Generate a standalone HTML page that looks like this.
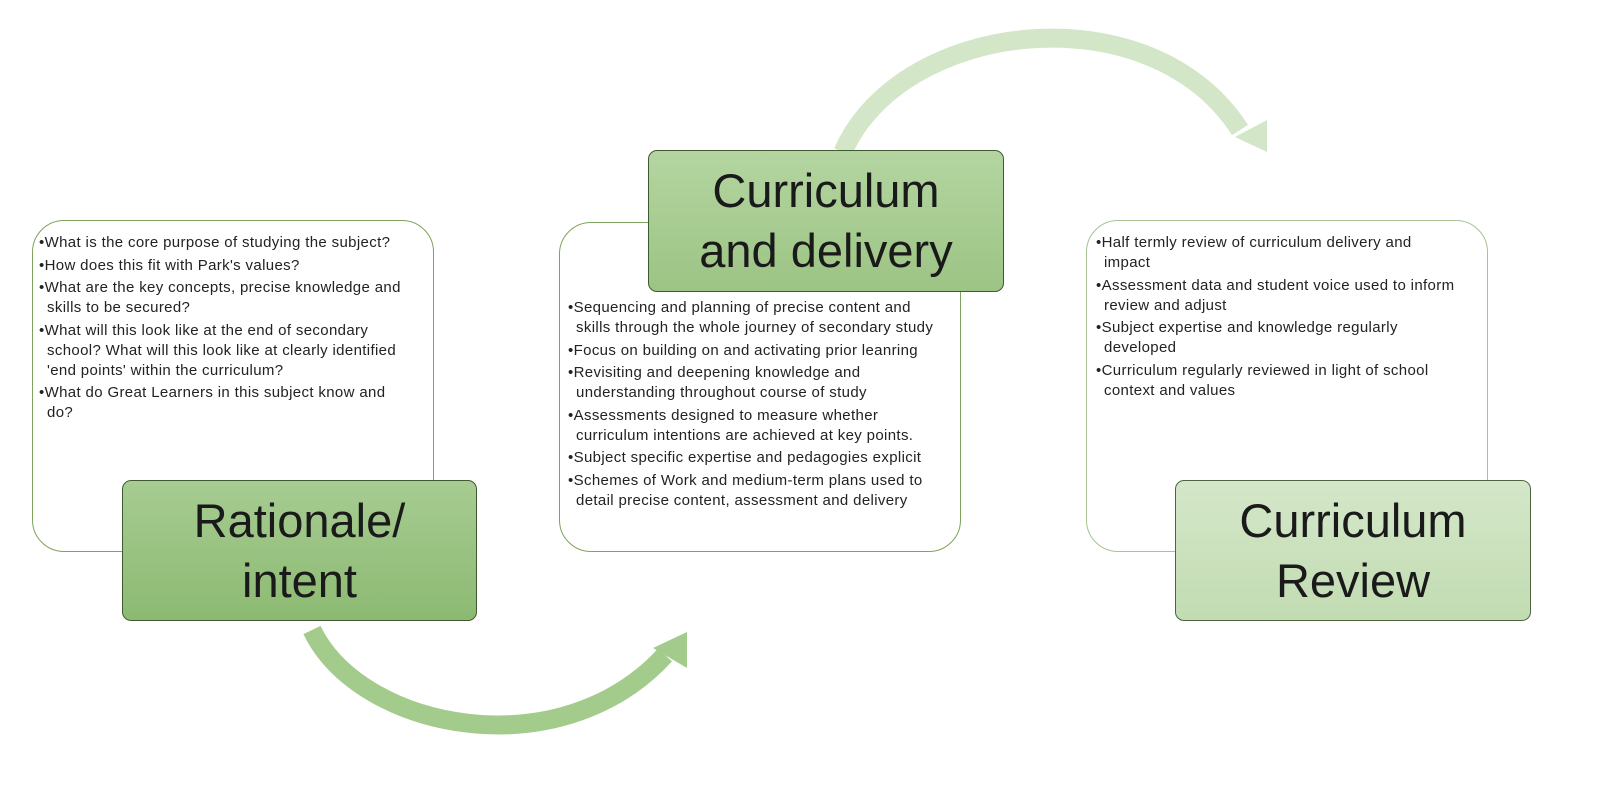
<!DOCTYPE html>
<html><head><meta charset="utf-8"><style>
body{margin:0;width:1600px;height:785px;background:#fff;position:relative;overflow:hidden;font-family:"Liberation Sans",sans-serif}
.box{position:absolute;background:#fff;border:1.5px solid #7ea35c;border-radius:32px;box-sizing:border-box}
.box ul{margin:0;padding:0;list-style:none;font-size:15px;letter-spacing:0.35px;line-height:20px;color:#222;white-space:nowrap}
.box li{padding-left:8px;text-indent:-8px;margin-bottom:2.5px}
.box li:before{content:"•";}
.lab{position:absolute;border:1.5px solid #3f5a2e;border-radius:9px;box-sizing:border-box;display:flex;align-items:center;justify-content:center;text-align:center;font-size:47px;line-height:60px;color:#1a1a1a}
svg{position:absolute;left:0;top:0}
</style></head><body>
<svg width="1600" height="785">
<path d="M312 630 C 360 730, 560 770, 665 655" fill="none" stroke="#a3cb8c" stroke-width="19"/>
<polygon points="687,632 653,648 687,668" fill="#a3cb8c"/>
<path d="M843 152 C 900 20, 1150 -10, 1240 130" fill="none" stroke="#d3e6c8" stroke-width="19"/>
<polygon points="1235,137 1267,120 1267,152" fill="#d3e6c8"/>
</svg>
<div class="box" style="left:32px;top:220px;width:402px;height:332px;padding:12px 0 0 6px"><ul>
<li>What is the core purpose of studying the subject?</li>
<li>How does this fit with Park's values?</li>
<li>What are the key concepts, precise knowledge and<br>skills to be secured?</li>
<li>What will this look like at the end of secondary<br>school? What will this look like at clearly identified<br>'end points' within the curriculum?</li>
<li>What do Great Learners in this subject know and<br>do?</li></ul></div>
<div class="lab" style="left:122px;top:480px;width:355px;height:141px;background:linear-gradient(#a7cc92,#8cba72)">Rationale/<br>intent</div>
<div class="box" style="left:559px;top:222px;width:402px;height:330px;padding:75px 0 0 8px"><ul>
<li>Sequencing and planning of precise content and<br>skills through the whole journey of secondary study</li>
<li>Focus on building on and activating prior leanring</li>
<li>Revisiting and deepening knowledge and<br>understanding throughout course of study</li>
<li>Assessments designed to measure whether<br>curriculum intentions are achieved at key points.</li>
<li>Subject specific expertise and pedagogies explicit</li>
<li>Schemes of Work and medium-term plans used to<br>detail precise content, assessment and delivery</li></ul></div>
<div class="lab" style="left:648px;top:150px;width:356px;height:142px;background:linear-gradient(#b4d5a1,#9cc484)">Curriculum<br>and delivery</div>
<div class="box" style="left:1086px;top:220px;width:402px;height:332px;padding:12px 0 0 9px;border-color:#a8c294"><ul>
<li>Half termly review of curriculum delivery and<br>impact</li>
<li>Assessment data and student voice used to inform<br>review and adjust</li>
<li>Subject expertise and knowledge regularly<br>developed</li>
<li>Curriculum regularly reviewed in light of school<br>context and values</li></ul></div>
<div class="lab" style="left:1175px;top:480px;width:356px;height:141px;background:linear-gradient(#d4e7c9,#c2dcb2);border-color:#4e6540">Curriculum<br>Review</div>
</body></html>
